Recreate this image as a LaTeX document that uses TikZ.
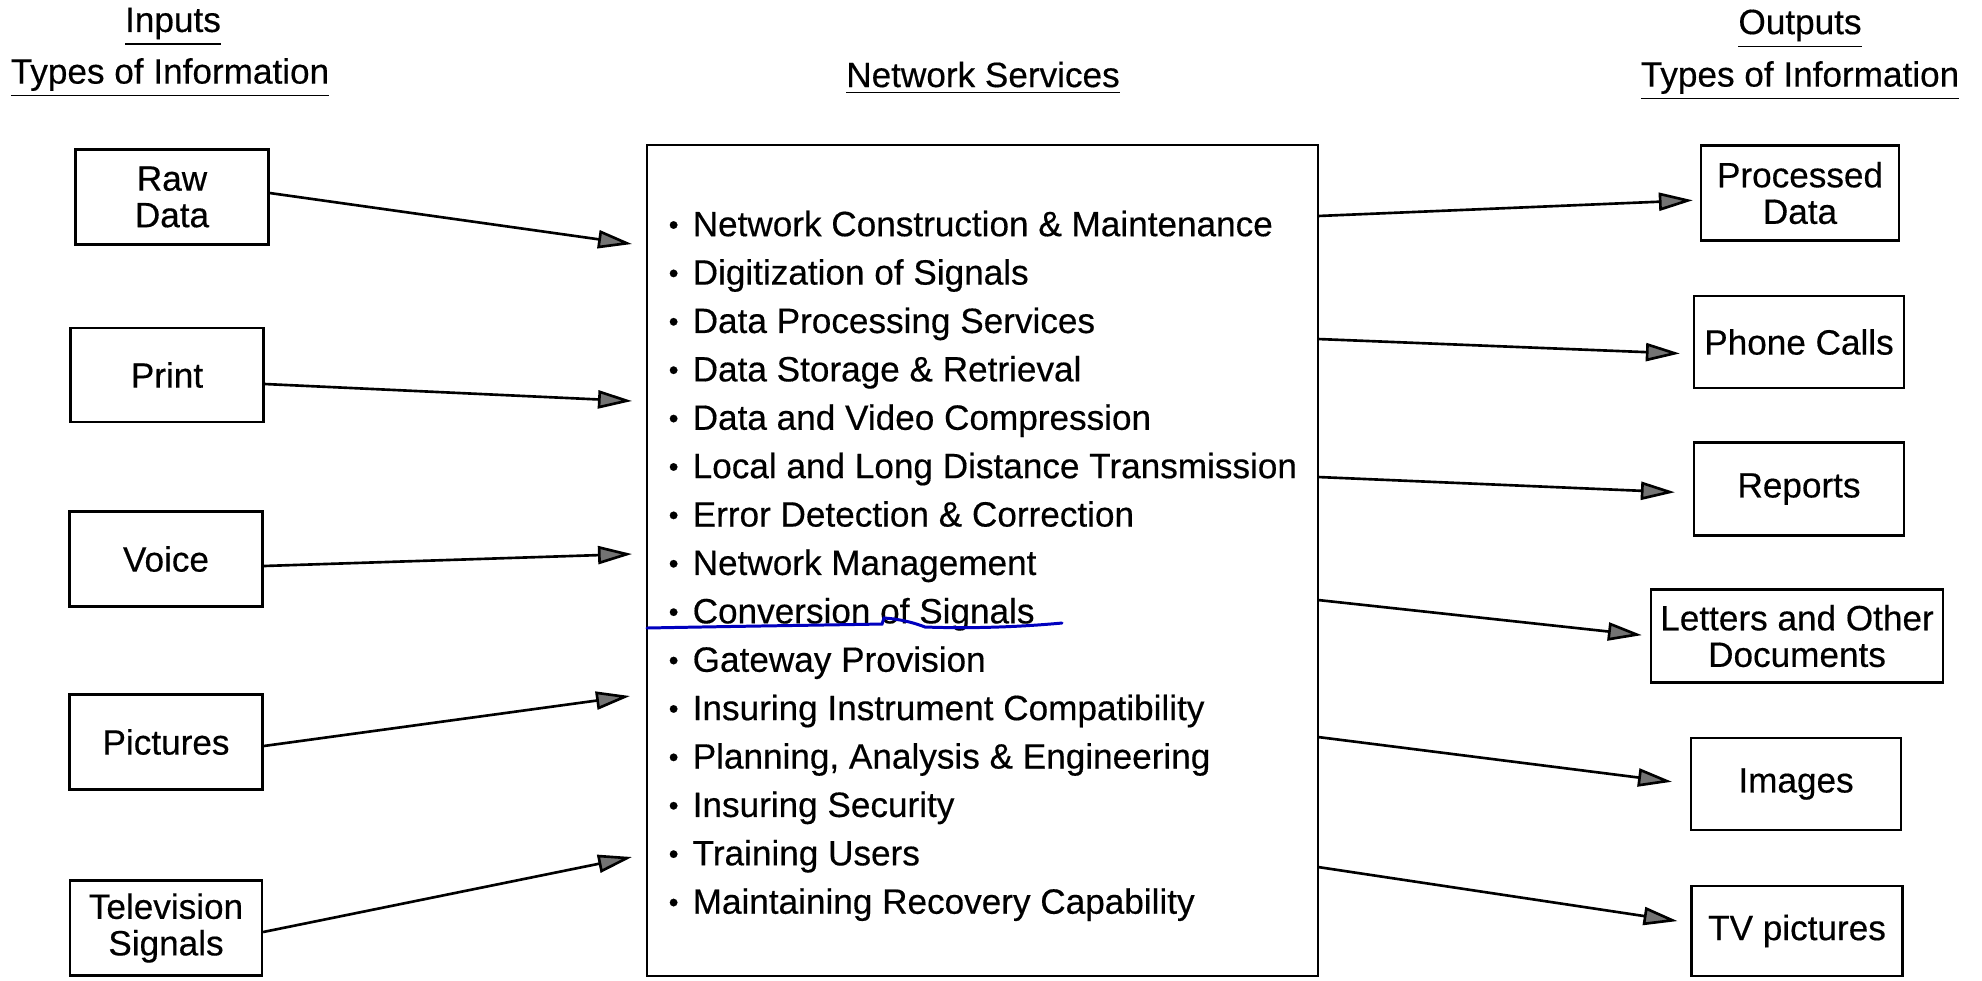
\documentclass[tikz,border=0pt]{standalone}
\usepackage{fontspec}
\setmainfont{Liberation Sans}[FakeBold=0.4]
\usetikzlibrary{positioning}
\usetikzlibrary{arrows.meta}
\newcommand{\svcdot}{\makebox[2.4mm][l]{\raisebox{0.1ex}{\fontsize{8}{8}\selectfont\textbullet}}}
\tikzset{
    mybox/.style = {rectangle, draw=black, line width=0.65pt, align=center, inner sep=0pt, font=\fontsize{10}{10.4}\selectfont},
    myhead/.style = {align=center, inner sep=0pt, font=\fontsize{10}{12}\selectfont},
    mylist/.style = {align=left, inner sep=0pt, font=\fontsize{10}{13.77}\selectfont},
    edgef/.style = {-{Triangle[length=3.4mm,width=1.8mm,fill=black!55]}, line width=0.75pt, black},
    edgeu/.style = {line width=0.85pt, blue!75!black, line cap=round}, % pen mark
}
\begin{document}
\begin{tikzpicture}[x=0.1mm, y=-0.1mm]
  \useasboundingbox (0,0) rectangle (1982,980);
  % headings
  \node[myhead] (inhead) at (173,27) {\underline{Inputs}};
  \node[myhead] (intypes) at (170,78) {\underline{Types of Information}};
  \node[myhead] (svchead) at (983,78) {\underline{Network Services}};
  \node[myhead] (outhead) at (1800,29) {\underline{Outputs}};
  \node[myhead] (outtypes) at (1800,81) {\underline{Types of Information}};
  % inputs
  \node[mybox, minimum width=19.3mm, minimum height=9.5mm] (raw) at (172,197) {Raw\\Data};
  \node[mybox, minimum width=19.3mm, minimum height=9.4mm] (print) at (167,375) {Print};
  \node[mybox, minimum width=19.3mm, minimum height=9.5mm] (voice) at (166,559) {Voice};
  \node[mybox, minimum width=19.3mm, minimum height=9.5mm] (pictures) at (166,742) {Pictures};
  \node[mybox, minimum width=19.2mm, minimum height=9.5mm] (tv) at (166,928) {Television\\Signals};
  % services
  \node[draw, line width=0.65pt, minimum width=67.1mm, minimum height=83.1mm, inner sep=0pt] (svc) at (982.5,560.5) {};
  \node[mylist, anchor=north west] (svclist) at (668,210) {%
    \svcdot Network Construction \& Maintenance\\
    \svcdot Digitization of Signals\\
    \svcdot Data Processing Services\\
    \svcdot Data Storage \& Retrieval\\
    \svcdot Data and Video Compression\\
    \svcdot Local and Long Distance Transmission\\
    \svcdot Error Detection \& Correction\\
    \svcdot Network Management\\
    \svcdot Conversion of Signals\\
    \svcdot Gateway Provision\\
    \svcdot Insuring Instrument Compatibility\\
    \svcdot Planning, Analysis \& Engineering\\
    \svcdot Insuring Security\\
    \svcdot Training Users\\
    \svcdot Maintaining Recovery Capability};
  % outputs
  \node[mybox, minimum width=19.8mm, minimum height=9.5mm] (proc) at (1800,193) {Processed\\Data};
  \node[mybox, minimum width=21mm, minimum height=9.2mm] (phone) at (1799,342) {Phone Calls};
  \node[mybox, minimum width=21mm, minimum height=9.3mm] (reports) at (1799,489) {Reports};
  \node[mybox, minimum width=29.2mm, minimum height=9.3mm] (letters) at (1797,636) {Letters and Other\\Documents};
  \node[mybox, minimum width=21mm, minimum height=9.2mm] (images) at (1796,784) {Images};
  \node[mybox, minimum width=21.1mm, minimum height=9mm] (tvpic) at (1797,931) {TV pictures};
  % arrow ends
  \coordinate (in1) at (632,244);
  \coordinate (in2) at (632,401);
  \coordinate (in3) at (632,554);
  \coordinate (in4) at (630,696);
  \coordinate (in5) at (632,857);
  \coordinate (out1) at (1318,216);
  \coordinate (out2) at (1318,339);
  \coordinate (out3) at (1318,477);
  \coordinate (out4) at (1318,600);
  \coordinate (out5) at (1318,737);
  \coordinate (out6) at (1318,867);
  \draw[edgef] ([yshift=0.4mm]raw.east) -- (in1);
  \draw[edgef] ([yshift=-0.9mm]print.east) -- (in2);
  \draw[edgef] ([yshift=-0.7mm]voice.east) -- (in3);
  \draw[edgef] ([yshift=-0.4mm]pictures.east) -- (in4);
  \draw[edgef] ([yshift=-0.4mm]tv.east) -- (in5);
  \draw[edgef, shorten >=0.7mm] (out1) -- ([yshift=-0.7mm]proc.west);
  \draw[edgef, shorten >=1.3mm] (out2) -- ([yshift=-1.2mm]phone.west);
  \draw[edgef, shorten >=1.8mm] (out3) -- ([yshift=-0.4mm]reports.west);
  \draw[edgef, shorten >=0.8mm] (out4) -- (letters.west);
  \draw[edgef, shorten >=1.8mm] (out5) -- (images.west);
  \draw[edgef, shorten >=1.3mm] (out6) -- ([yshift=0.8mm]tvpic.west);
  % pen mark under conversion
  \draw[edgeu] (647,628) .. controls (750,626) and (830,625) .. (882,624) -- (884,618) .. controls (900,619) and (915,623) .. (925,627) .. controls (980,629) and (1030,626) .. (1062,623);
\end{tikzpicture}
\end{document}
